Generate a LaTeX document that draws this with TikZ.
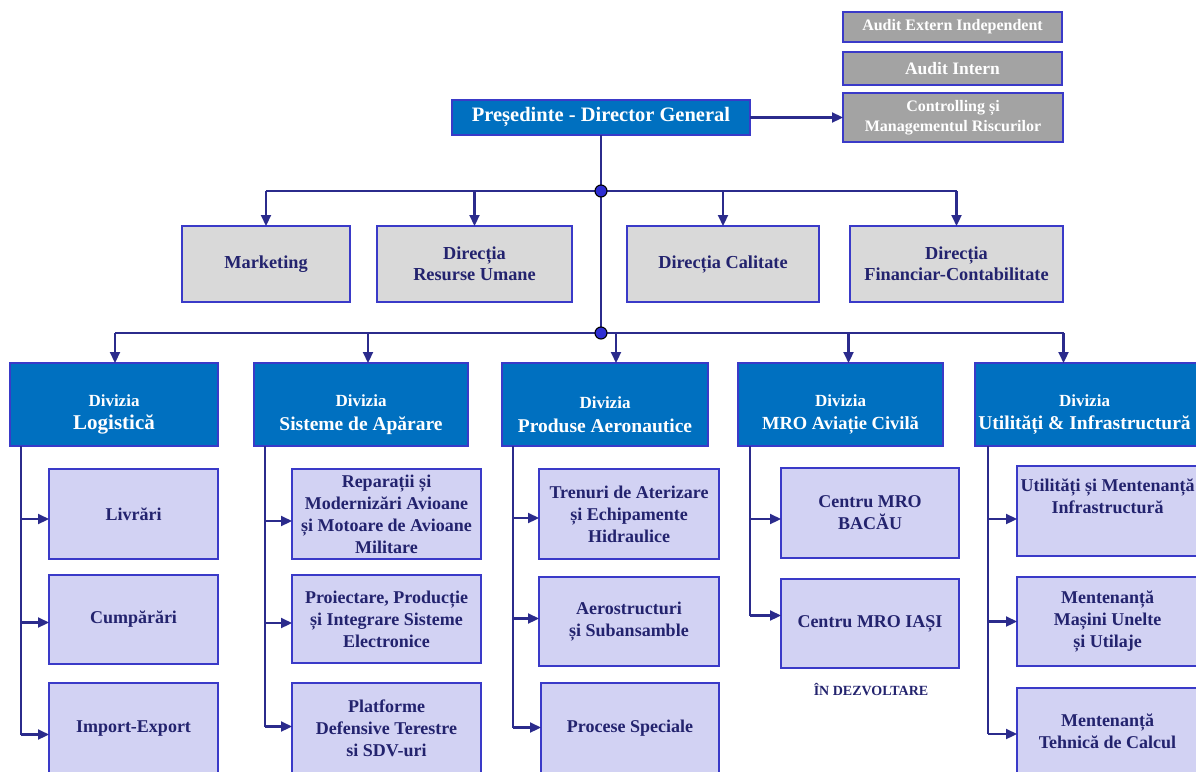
\documentclass[tikz,border=0pt]{standalone}
\usepackage{fontspec}
\setmainfont{Liberation Serif}
\usetikzlibrary{arrows.meta,calc}
\definecolor{lineC}{HTML}{2B2B8C}
\definecolor{edgeC}{HTML}{3A3AC8}
\definecolor{blueF}{HTML}{0070C0}
\definecolor{lightF}{HTML}{D2D2F3}
\definecolor{greyF}{HTML}{D9D9D9}
\definecolor{auditF}{HTML}{A3A3A3}
\definecolor{txtC}{HTML}{23236E}
\newcommand\bx[7][]{\node[#2,minimum width={(#5-#3)*1pt},minimum height={(#6-#4)*1pt},#1] (#7) at ({(#3+#5)/2},{(#4+#6)/2})}
\newcommand\fs[2]{\fontsize{#1}{#2}\selectfont}
\begin{document}
\begin{tikzpicture}[x=1pt,y=-1pt,
  basebox/.style={rectangle,draw=edgeC,line width=1.8pt,inner sep=0pt,outer sep=0pt,align=center,font=\bfseries\fs{18}{22}},
  abox/.style={basebox,fill=auditF,text=white,font=\bfseries\fs{16}{20}},
  dbox/.style={basebox,fill=blueF,text=white},
  gbox/.style={basebox,fill=greyF,text=txtC,font=\bfseries\fs{18.3}{21}},
  cbox/.style={basebox,fill=lightF,text=txtC},
  dtxt/.style={align=center,text=white,font=\bfseries\fs{19.5}{23.5},inner sep=0pt},
  conn/.style={draw=lineC,line width=2.2pt},
  arr/.style={conn,-{Triangle[length=11pt,width=10pt]}},
  dotn/.style={circle,fill=edgeC!80!blue,draw=black,line width=1.1pt,minimum size=12pt,inner sep=0pt}]
\useasboundingbox (0,0) rectangle (1196,771);
\clip (0,0) rectangle (1196,771);

% audit boxes
\bx{abox}{843}{12}{1062}{42}{aei}{Audit Extern Independent};
\bx{abox}{843}{52}{1062}{85}{ai}{\fs{17.5}{20}Audit Intern};
\bx{abox}{843}{93}{1063}{142}{ctrl}{Controlling și\\Managementul Riscurilor};

% president
\bx{dbox}{452}{100}{750}{135}{pres}{\fs{20.5}{24}Președinte - Director General};

% staff directions
\bx{gbox}{182}{226}{350}{302}{mkt}{Marketing};
\bx{gbox}{377}{226}{572}{302}{rum}{Direcția\\Resurse Umane};
\bx{gbox}{627}{226}{819}{302}{cal}{Direcția Calitate};
\bx{gbox}{850}{226}{1063}{302}{fin}{Direcția\\Financiar-Contabilitate};

% divisions
\bx{dbox}{10}{363}{218}{446}{dlog}{};
\bx{dbox}{254}{363}{468}{446}{dsis}{};
\bx{dbox}{502}{363}{708}{446}{dpro}{};
\bx{dbox}{738}{363}{943}{446}{dmro}{};
\bx{dbox}{975}{363}{1198}{446}{dutl}{};
\node[dtxt] (dlog-t) at ([yshift=-10pt]dlog.center) {\fs{17}{20}Divizia\\\fs{21}{24}Logistică};
\node[dtxt] (dsis-t) at ([yshift=-10pt]dsis.center) {\fs{17}{20}Divizia\\Sisteme de Apărare};
\node[dtxt] (dpro-t) at ([yshift=-10pt]dpro.center) {\fs{17}{20}Divizia\\Produse Aeronautice};
\node[dtxt] (dmro-t) at ([yshift=-10pt]dmro.center) {\fs{17}{20}Divizia\\\fs{18.5}{22}MRO Aviație Civilă};
\node[dtxt] (dutl-t) at ([yshift=-10pt,xshift=-2pt]dutl.center) {\fs{17}{20}Divizia\\Utilități \& Infrastructură};

% children
\bx{cbox}{49}{469}{218}{559}{l1}{Livrări};
\bx{cbox}{49}{575}{218}{664}{l2}{Cumpărări};
\bx{cbox}{49}{683}{218}{774}{l3}{Import-Export};
\bx{cbox}{292}{469}{481}{559}{s1}{Reparații și\\Modernizări  Avioane\\și Motoare de Avioane\\Militare};
\bx{cbox}{292}{575}{481}{663}{s2}{Proiectare, Producție\\și Integrare Sisteme\\Electronice};
\bx{cbox}{292}{683}{481}{774}{s3}{Platforme\\Defensive Terestre\\si  SDV-uri};
\bx{cbox}{539}{469}{719}{559}{p1}{Trenuri  de Aterizare\\și Echipamente\\Hidraulice};
\bx{cbox}{539}{577}{719}{666}{p2}{Aerostructuri\\și Subansamble};
\bx{cbox}{541}{683}{719}{774}{p3}{Procese Speciale};
\bx{cbox}{781}{468}{959}{558}{m1}{Centru  MRO\\BACĂU};
\bx{cbox}{781}{579}{959}{668}{m2}{Centru  MRO IAȘI};
\bx{cbox}{1017}{466}{1198}{556}{u1}{Utilități  și Mentenanță\\Infrastructură\\[8pt]};
\bx{cbox}{1017}{577}{1198}{666}{u2}{Mentenanță\\Mașini  Unelte\\și Utilaje};
\bx{cbox}{1017}{688}{1198}{774}{u3}{Mentenanță\\Tehnică de Calcul};
\node[text=txtC,font=\bfseries\fs{14}{16},inner sep=0pt] (dev) at (871,690) {ÎN DEZVOLTARE};

% top connectors
\coordinate (j1) at ([yshift=-56pt]pres.south);
\coordinate (j2) at ([yshift=-198pt]pres.south);
\draw[arr] (pres.east) -- (ctrl.west);
\draw[conn] (pres.south) -- (j2);
\draw[conn] (mkt.north |- j1) -- (fin.north |- j1);
\foreach \n in {mkt,rum,cal,fin} \draw[arr] (\n.north |- j1) -- (\n.north);
\coordinate (a1) at ([xshift=1pt]dlog.north);
\coordinate (a2) at ([xshift=7pt]dsis.north);
\coordinate (a3) at ([xshift=11pt]dpro.north);
\coordinate (a4) at ([xshift=8pt]dmro.north);
\coordinate (a5) at ([xshift=-23pt]dutl.north);
\draw[conn] (a1 |- j2) -- (a5 |- j2);
\foreach \n in {a1,a2,a3,a4,a5} \draw[arr] (\n |- j2) -- (\n);
\node[dotn] (j1d) at (j1) {};
\node[dotn] (j2d) at (j2) {};

% trunks
\coordinate (tl) at ([xshift=11pt]dlog.south west);
\coordinate (ts) at ([xshift=11pt]dsis.south west);
\coordinate (tp) at ([xshift=11pt]dpro.south west);
\coordinate (tm) at ([xshift=12pt]dmro.south west);
\coordinate (tu) at ([xshift=13pt]dutl.south west);
\coordinate (l1a) at ([yshift=-5pt]l1.west);
\coordinate (l2a) at ([yshift=-3pt]l2.west);
\coordinate (l3a) at ([yshift=-6pt]l3.west);
\coordinate (s1a) at ([yshift=-7pt]s1.west);
\coordinate (s2a) at ([yshift=-4pt]s2.west);
\coordinate (s3a) at ([yshift=2pt]s3.west);
\coordinate (p1a) at ([yshift=-4pt]p1.west);
\coordinate (p2a) at ([yshift=3pt]p2.west);
\coordinate (p3a) at ([yshift=1pt]p3.west);
\coordinate (m1a) at ([yshift=-6pt]m1.west);
\coordinate (m2a) at ([yshift=8pt]m2.west);
\coordinate (u1a) at ([yshift=-8pt]u1.west);
\coordinate (u2a) at ([yshift=0pt]u2.west);
\coordinate (u3a) at ([yshift=-3pt]u3.west);
\draw[conn] (tl) -- (tl |- l3a);
\draw[conn] (ts) -- (ts |- s3a);
\draw[conn] (tp) -- (tp |- p3a);
\draw[conn] (tm) -- (tm |- m2a);
\draw[conn] (tu) -- (tu |- u3a);
\foreach \c in {l1a,l2a,l3a} \draw[arr] (tl |- \c) -- (\c);
\foreach \c in {s1a,s2a,s3a} \draw[arr] (ts |- \c) -- (\c);
\foreach \c in {p1a,p2a,p3a} \draw[arr] (tp |- \c) -- (\c);
\foreach \c in {m1a,m2a} \draw[arr] (tm |- \c) -- (\c);
\foreach \c in {u1a,u2a,u3a} \draw[arr] (tu |- \c) -- (\c);
\end{tikzpicture}
\end{document}
